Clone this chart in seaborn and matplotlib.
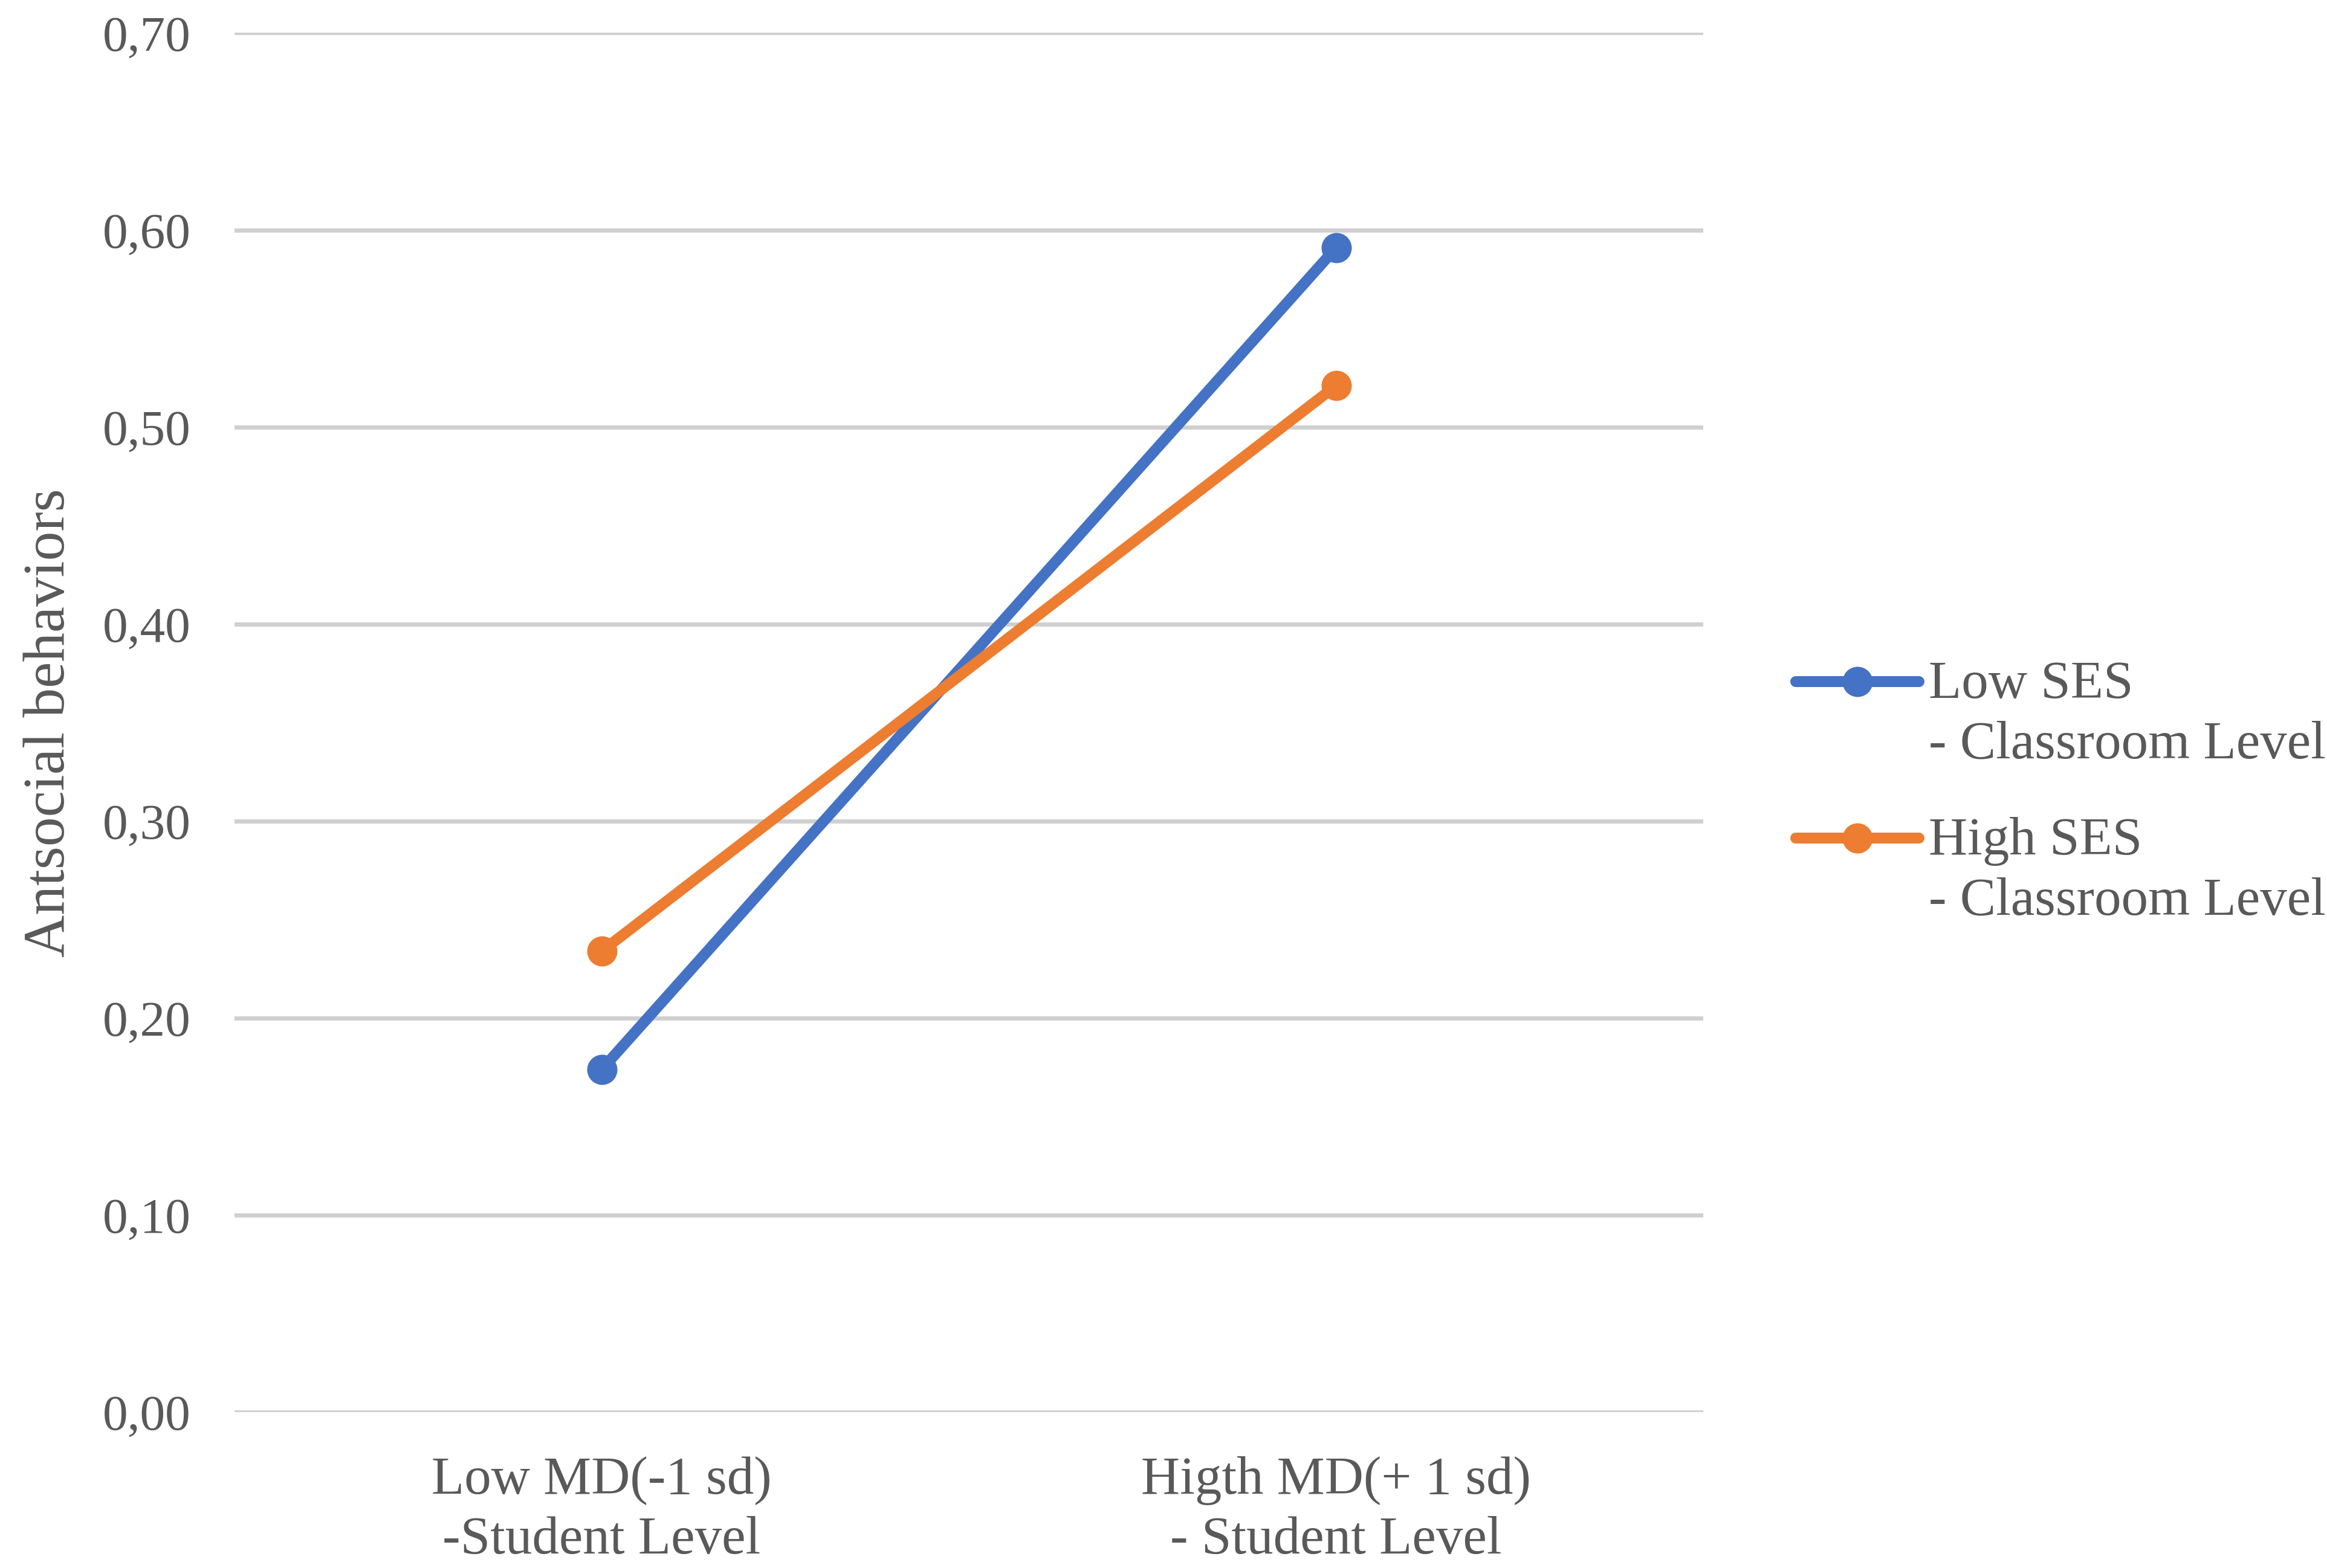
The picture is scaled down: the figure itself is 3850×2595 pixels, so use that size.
import numpy as np
import pandas as pd
import seaborn as sns
import matplotlib
matplotlib.use('Agg')
import matplotlib.pyplot as plt
from matplotlib.ticker import FuncFormatter

# values
md_levels = ['Low MD(-1 sd)\n-Student Level', 'Higth MD(+ 1 sd)\n- Student Level']
ses_groups = ['Low SES\n- Classroom Level', 'High SES\n- Classroom Level']
low_ses_values = [0.174, 0.591]
high_ses_values = [0.234, 0.521]
ses_colors = ['#4472C4', '#ED7D31']
y_ticks = [0.0, 0.1, 0.2, 0.3, 0.4, 0.5, 0.6, 0.7]

df = pd.DataFrame({
    'md': md_levels * 2,
    'ses': [ses_groups[0]] * 2 + [ses_groups[1]] * 2,
    'value': low_ses_values + high_ses_values,
})

sns.set_style('white')
plt.rcParams['font.family'] = ['Liberation Serif', 'DejaVu Serif']
text_col = '#595959'
fs_tick = 30
fs = 32

fig = plt.figure(figsize=(19.25, 12.975), dpi=200)
ax = fig.add_axes([0.1008, 0.0993, 0.732 - 0.1008, 0.979 - 0.0993])

sns.lineplot(data=df, x='md', y='value', hue='ses', hue_order=ses_groups,
             palette=ses_colors, marker='o', markersize=18, markeredgewidth=0,
             linewidth=6.5, sort=False, ax=ax)

ax.set_xlim(-0.5, 1.5)
ax.set_ylim(0, 0.7)
ax.set_yticks(y_ticks)
ax.yaxis.set_major_formatter(FuncFormatter(lambda v, p: f'{v:.2f}'.replace('.', ',')))
ax.grid(axis='y', color='#d0d0d0', linewidth=2.5)
ax.grid(axis='x', visible=False)
ax.set_axisbelow(True)
for s in ax.spines.values():
    s.set_visible(False)
ax.tick_params(axis='y', length=0, pad=26, labelsize=fs_tick, labelcolor=text_col)
ax.tick_params(axis='x', length=0, pad=26, labelsize=fs, labelcolor=text_col)
for lab in ax.get_xticklabels():
    lab.set_linespacing(1.3)
ax.set_xlabel('')
ax.set_ylabel('')
fig.text(0.0215, 0.539, 'Antsocial behaviors', rotation=90, ha='center', va='center',
         fontsize=35, color=text_col)

leg = ax.legend(loc='center left', bbox_to_anchor=(0.7717, 0.494),
                bbox_transform=fig.transFigure, frameon=False, fontsize=fs,
                handlelength=2.3, handletextpad=0.18, labelspacing=0.88,
                borderpad=0, borderaxespad=0)
for t in leg.get_texts():
    t.set_color(text_col)
    t.set_linespacing(1.3)
# put the handle next to the first line of each label
for ln in leg.get_lines():
    ln.set_ydata(np.asarray(ln.get_ydata()) + 20)

fig.savefig('out.png', dpi=200, facecolor='white')
